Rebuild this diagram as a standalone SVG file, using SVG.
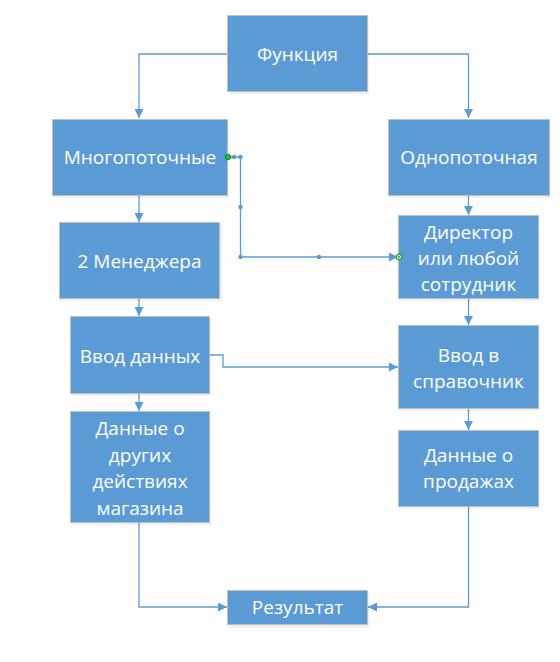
<svg xmlns="http://www.w3.org/2000/svg" width="560" height="662" viewBox="0 0 560 662">
<defs>
<style>
.box{fill:#5B9BD5;stroke:#BFBFBF;stroke-width:1}
.sh{fill:#000;opacity:0.06}
.t{font-family:"Open Sans","Noto Sans",sans-serif;font-size:19px;fill:#fff;text-anchor:middle;dominant-baseline:central}
.c{fill:none;stroke:#5B9BD5;stroke-width:1.3}
.d{fill:#5B9BD5}
</style>
<marker id="ah" viewBox="0 0 10 10" refX="10" refY="5" markerWidth="9" markerHeight="9" markerUnits="userSpaceOnUse" orient="auto">
<path d="M0,0 L10,5 L0,10 z" fill="#5B9BD5"/>
</marker>
</defs>
<rect width="560" height="662" fill="#fff"/>
<g id="connectors">
<path class="c" d="M228,54 H139 V118" marker-end="url(#ah)"/>
<path class="c" d="M367,54 H468.5 V118" marker-end="url(#ah)"/>
<path class="c" d="M139,196 V222" marker-end="url(#ah)"/>
<path class="c" d="M139,299 V316" marker-end="url(#ah)"/>
<path class="c" d="M139,394 V411" marker-end="url(#ah)"/>
<path class="c" d="M139,523 V607 H227" marker-end="url(#ah)"/>
<path class="c" d="M468.5,196 V215" marker-end="url(#ah)"/>
<path class="c" d="M468.5,299 V325" marker-end="url(#ah)"/>
<path class="c" d="M468.5,409 V430" marker-end="url(#ah)"/>
<path class="c" d="M468.5,506 V607 H368" marker-end="url(#ah)"/>
<path class="c" d="M209,355 H223 V367 H398" marker-end="url(#ah)"/>
<path class="c" d="M228,157 H240.5 V257 H398" marker-end="url(#ah)"/>
</g>
<g id="n-func">
<rect class="sh" x="229" y="17" width="140" height="77"/>
<rect class="box" x="227.5" y="15.5" width="140" height="76"/>
<text class="t" x="297.5" y="53.5">Функция</text>
</g>
<g id="n-multi">
<rect class="sh" x="53" y="121" width="176" height="77"/>
<rect class="box" x="52.5" y="119.5" width="175" height="76"/>
<text class="t" x="140" y="157">Многопоточные</text>
</g>
<g id="n-single">
<rect class="sh" x="389" y="121" width="162" height="77"/>
<rect class="box" x="388.5" y="119.5" width="161" height="76"/>
<text class="t" x="469" y="157">Однопоточная</text>
</g>
<g id="n-managers">
<rect class="sh" x="60" y="224" width="162" height="77"/>
<rect class="box" x="59.5" y="222.5" width="160" height="76"/>
<text class="t" x="139.5" y="260.5">2 Менеджера</text>
</g>
<g id="n-director">
<rect class="sh" x="399" y="217" width="141" height="84"/>
<rect class="box" x="398.5" y="215.5" width="140" height="83"/>
<text class="t" x="468.5" y="232">Директор</text>
<text class="t" x="468.5" y="258">или любой</text>
<text class="t" x="468.5" y="283.5">сотрудник</text>
</g>
<g id="n-input">
<rect class="sh" x="71" y="318" width="140" height="78"/>
<rect class="box" x="70.5" y="316.5" width="139" height="77"/>
<text class="t" x="140" y="355.5">Ввод данных</text>
</g>
<g id="n-ref">
<rect class="sh" x="399" y="327" width="141" height="84"/>
<rect class="box" x="398.5" y="325.5" width="140" height="83"/>
<text class="t" x="468.5" y="354.5">Ввод в</text>
<text class="t" x="468.5" y="381">справочник</text>
</g>
<g id="n-other">
<rect class="sh" x="71" y="413" width="140" height="112"/>
<rect class="box" x="70.5" y="411.5" width="139" height="111"/>
<text class="t" x="140" y="427.5">Данные о</text>
<text class="t" x="140" y="454.5">других</text>
<text class="t" x="140" y="481">действиях</text>
<text class="t" x="140" y="507.5">магазина</text>
</g>
<g id="n-sales">
<rect class="sh" x="399" y="432" width="141" height="77"/>
<rect class="box" x="398.5" y="430.5" width="140" height="76"/>
<text class="t" x="468.5" y="454.5">Данные о</text>
<text class="t" x="468.5" y="481">продажах</text>
</g>
<g id="n-result">
<rect class="sh" x="228" y="592" width="141" height="36"/>
<rect class="box" x="227.5" y="590.5" width="140" height="34"/>
<text class="t" x="297.5" y="607">Результат</text>
</g>
<g id="handles">
<circle class="d" cx="234" cy="157" r="2.2"/>
<circle class="d" cx="240.5" cy="157" r="2.2"/>
<circle class="d" cx="240.5" cy="207" r="2.2"/>
<circle class="d" cx="240.5" cy="257" r="2.2"/>
<circle class="d" cx="319" cy="257" r="2.2"/>
<circle cx="228" cy="157" r="2.8" fill="#1EC41E" stroke="#0E7A0E" stroke-width="0.8"/>
<circle cx="399" cy="257" r="2.6" fill="#fff" stroke="#1E9E1E" stroke-width="1.2"/>
<circle cx="399" cy="257" r="1" fill="#1E9E1E"/>
</g>
</svg>
